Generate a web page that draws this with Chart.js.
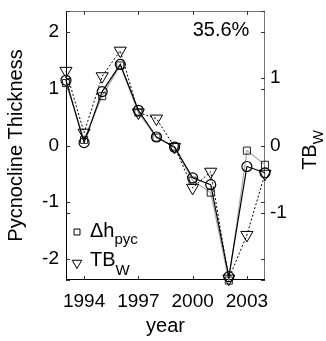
<!DOCTYPE html>
<html><head><meta charset="utf-8">
<script src="https://cdn.jsdelivr.net/npm/chart.js@4"></script>
<style>html,body{margin:0;padding:0;background:#fff}#wrap{width:326px;height:341px}</style>
</head><body><div id="wrap"><canvas id="c" width="326" height="341"></canvas></div>
<script>
const years = [1993,1994,1995,1996,1997,1998,1999,2000,2001,2002,2003,2004];
const pycnocline = [1.10,0.10,0.87,1.41,0.58,0.14,-0.02,-0.62,-0.83,-2.38,-0.09,-0.34];
const fitted = [1.15,0.05,0.95,1.43,0.62,0.15,-0.03,-0.57,-0.69,-2.31,-0.37,-0.48];
const tbw = [1.11,0.19,1.03,1.41,0.49,0.40,-0.02,-0.63,-0.39,-1.98,-1.33,-0.42];
const xTicks = [1994,1997,2000,2003];
const leftTicks = [-2,-1,0,1,2];
const rightTicks = [-2,-1,0,1,2];
const leftRange = [-2.37, 2.37];
const rightRange = [-2, 2];
const annotation = '35.6%';

const FONT = 'Liberation Sans, Arial, sans-serif';
const pts = arr => arr.map((v,i)=>({x: years[i], y: v}));

const framePlugin = {
  id: 'frame',
  beforeDatasetsDraw(chart) {
    const {ctx, chartArea: a, scales} = chart;
    ctx.save();
    ctx.lineWidth = 1;
    ctx.strokeStyle = '#777';
    ctx.beginPath();
    ctx.moveTo(a.left, a.top + 0.5); ctx.lineTo(a.right, a.top + 0.5);
    ctx.moveTo(a.right - 0.5, a.top); ctx.lineTo(a.right - 0.5, a.bottom);
    ctx.stroke();
    ctx.strokeStyle = '#000';
    ctx.beginPath();
    ctx.moveTo(a.left + 0.5, a.top); ctx.lineTo(a.left + 0.5, a.bottom);
    ctx.moveTo(a.left, a.bottom - 0.5); ctx.lineTo(a.right, a.bottom - 0.5);
    ctx.stroke();
    const L = 4;
    ctx.strokeStyle = '#333';
    ctx.beginPath();
    ['y','y2'].forEach(id => {
      const s = scales[id];
      s.ticks.forEach(t => {
        const p = Math.round(s.getPixelForValue(t.value)) + 0.5;
        ctx.moveTo(a.left, p); ctx.lineTo(a.left + L, p);
        ctx.moveTo(a.right, p); ctx.lineTo(a.right - L, p);
      });
    });
    scales.x.ticks.forEach(t => {
      const p = Math.round(scales.x.getPixelForValue(t.value)) + 0.5;
      ctx.moveTo(p, a.bottom); ctx.lineTo(p, a.bottom - L);
      ctx.moveTo(p, a.top); ctx.lineTo(p, a.top + L);
    });
    ctx.stroke();
    ctx.restore();
  },
  afterDraw(chart) {
    const {ctx} = chart;
    ctx.save();
    ctx.fillStyle = '#000';
    ctx.textBaseline = 'alphabetic';
    ctx.font = '20px ' + FONT;
    ctx.textAlign = 'center';
    ctx.fillText(annotation, 221, 36);
    ctx.textAlign = 'left';
    const ds = chart.data.datasets;
    const drawEntry = (dsIdx, mx, my, r, main, sub, tx, base, subDy) => {
      const d = ds[dsIdx];
      ctx.save();
      ctx.strokeStyle = '#000';
      ctx.fillStyle = 'rgba(0,0,0,0)';
      ctx.lineWidth = 1;
      Chart.helpers.drawPoint(ctx, {pointStyle: d.pointStyle, rotation: d.pointRotation || 0, radius: r, borderWidth: 1}, mx, my);
      ctx.restore();
      ctx.fillStyle = '#000';
      ctx.font = '20px ' + FONT;
      ctx.fillText(main, tx, base);
      const w = ctx.measureText(main).width;
      ctx.font = '15px ' + FONT;
      ctx.fillText(sub, tx + w, base + subDy);
    };
    drawEntry(2, 77, 232, 4.2, '\u0394h', 'pyc', 90, 237, 7);
    drawEntry(1, 77, 263, 5.5, 'TB', 'W', 90, 266, 9);
    ctx.save();
    ctx.translate(316, 150);
    ctx.rotate(-Math.PI/2);
    ctx.font = '20px ' + FONT;
    const w1 = ctx.measureText('TB').width;
    ctx.font = '15px ' + FONT;
    const w2 = ctx.measureText('W').width;
    const start = -(w1 + w2)/2;
    ctx.font = '20px ' + FONT;
    ctx.fillText('TB', start, 0);
    ctx.font = '15px ' + FONT;
    ctx.fillText('W', start + w1, 7);
    ctx.restore();
    ctx.restore();
  }
};

const noPadV = s => { s.paddingTop = 0; s.paddingBottom = 0; };

new Chart(document.getElementById('c'), {
  type: 'line',
  data: {
    datasets: [
      { label: 'fit', data: pts(fitted), yAxisID: 'y', borderColor: '#000', borderWidth: 1.2,
        pointStyle: 'circle', pointRadius: 5, pointBorderColor: '#000', pointBackgroundColor: 'rgba(0,0,0,0)', pointBorderWidth: 1.2, clip: false, tension: 0 },
      { label: 'TBW', data: pts(tbw), yAxisID: 'y2', borderColor: '#000', borderWidth: 1, borderDash: [2,2],
        pointStyle: 'triangle', pointRotation: 180, pointRadius: 7, pointBorderColor: '#000', pointBackgroundColor: 'rgba(0,0,0,0)', pointBorderWidth: 1, clip: false, tension: 0 },
      { label: 'dh', data: pts(pycnocline), yAxisID: 'y', borderColor: '#aaa', borderWidth: 1.2,
        pointStyle: 'rect', pointRadius: 5, pointBorderColor: '#222', pointBackgroundColor: 'rgba(0,0,0,0)', pointBorderWidth: 1, clip: false, tension: 0 }
    ]
  },
  options: {
    responsive: false, animation: false, devicePixelRatio: 1,
    layout: { padding: { top: 11, left: 0, right: 0, bottom: 0 } },
    plugins: { legend: { display: false }, tooltip: { enabled: false } },
    scales: {
      x: {
        type: 'linear', position: 'bottom', min: years[0], max: years[years.length-1],
        afterBuildTicks: s => { s.ticks = xTicks.map(v => ({value: v})); },
        afterFit: s => { s.height = 61; s.paddingLeft = 0; s.paddingRight = 0; },
        ticks: { callback: v => String(v), color: '#000', font: { family: FONT, size: 19 }, padding: 10, maxRotation: 0, autoSkip: false },
        grid: { display: false, drawTicks: false }, border: { display: false },
        title: { display: true, text: 'year', color: '#000', font: { family: FONT, size: 20 }, padding: { top: 0, bottom: 2.5 } }
      },
      y: {
        type: 'linear', position: 'left', min: leftRange[0], max: leftRange[1],
        afterBuildTicks: s => { s.ticks = leftTicks.map(v => ({value: v})); },
        afterFit: s => { s.width = 66; noPadV(s); },
        ticks: { callback: v => String(v), color: '#000', font: { family: FONT, size: 19 }, padding: 7 },
        grid: { display: false, drawTicks: false }, border: { display: false },
        title: { display: true, text: 'Pycnocline Thickness', color: '#000', font: { family: FONT, size: 20 }, padding: { top: 4.5, bottom: 0 } }
      },
      y2: {
        type: 'linear', position: 'right', min: rightRange[0], max: rightRange[1],
        afterBuildTicks: s => { s.ticks = rightTicks.map(v => ({value: v})); },
        afterFit: s => { s.width = 61; noPadV(s); },
        ticks: { callback: v => (Math.abs(v) === 2 ? '' : String(v)), color: '#000', font: { family: FONT, size: 19 }, padding: 5 },
        grid: { display: false, drawTicks: false }, border: { display: false }
      }
    }
  },
  plugins: [framePlugin]
});
</script>
</body></html>
